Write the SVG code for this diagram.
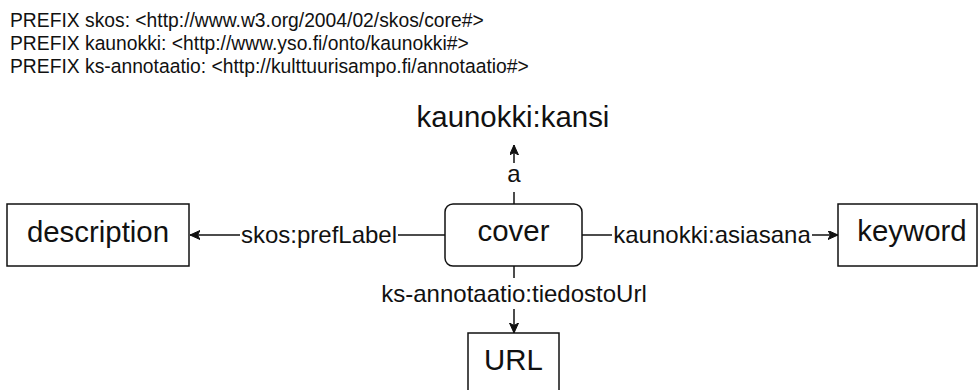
<svg xmlns="http://www.w3.org/2000/svg" width="979" height="390" viewBox="0 0 979 390">
  <style>
    .bg { fill: #ffffff; }
    .prefix { font-family: "Liberation Sans", Arial, Helvetica, sans-serif; font-size: 19.3px; fill: #111111; }
    .node rect { fill: #ffffff; stroke: #111111; stroke-width: 1.5; }
    .node text, .plain { font-family: "Liberation Sans", Arial, Helvetica, sans-serif; font-size: 29.4px; fill: #111111; text-anchor: middle; }
    .edge { fill: none; stroke: #111111; stroke-width: 1.5; }
    .arrow { marker-end: url(#head); }
    .lblbg { fill: #ffffff; stroke: none; }
    .lbl { font-family: "Liberation Sans", Arial, Helvetica, sans-serif; font-size: 24px; fill: #111111; text-anchor: middle; }
  </style>
  <defs>
    <marker id="head" markerUnits="userSpaceOnUse" markerWidth="11" markerHeight="10" refX="10" refY="4.5" orient="auto" viewBox="0 0 11 10">
      <path d="M0,0 L10,4.5 L0,9 L2.5,4.5 Z" fill="#111111" stroke="#111111" stroke-width="1" stroke-linejoin="miter"/>
    </marker>
  </defs>

  <rect class="bg" x="0" y="0" width="979" height="390"/>

  <!-- namespace prefixes -->
  <g id="prefixes">
    <text class="prefix" x="10" y="27">PREFIX skos: &lt;http://www.w3.org/2004/02/skos/core#&gt;</text>
    <text class="prefix" x="10" y="50">PREFIX kaunokki: &lt;http://www.yso.fi/onto/kaunokki#&gt;</text>
    <text class="prefix" x="10" y="73">PREFIX ks-annotaatio: &lt;http://kulttuurisampo.fi/annotaatio#&gt;</text>
  </g>

  <!-- connectors -->
  <g id="connectors">
    <path class="edge arrow" d="M514,204 L514,145"/>
    <path class="edge arrow" d="M445,235 L190,235"/>
    <path class="edge arrow" d="M582,235 L838,235"/>
    <path class="edge arrow" d="M514,266 L514,333"/>

    <rect class="lblbg" x="506" y="163" width="16" height="29"/>
    <text class="lbl" x="514" y="182">a</text>

    <rect class="lblbg" x="240" y="222" width="158" height="27"/>
    <text class="lbl" x="319" y="243">skos:prefLabel</text>

    <rect class="lblbg" x="612" y="222" width="200" height="27"/>
    <text class="lbl" x="712" y="243">kaunokki:asiasana</text>

    <rect class="lblbg" x="380" y="278" width="268" height="31"/>
    <text class="lbl" x="514" y="302">ks-annotaatio:tiedostoUrl</text>
  </g>

  <!-- nodes -->
  <g id="type-kansi">
    <text class="plain" x="513" y="127">kaunokki:kansi</text>
  </g>

  <g id="cover" class="node">
    <rect x="445" y="204" width="137" height="62" rx="8" ry="8"/>
    <text x="513.5" y="241">cover</text>
  </g>

  <g id="description" class="node">
    <rect x="7" y="204" width="182" height="62"/>
    <text x="98" y="242">description</text>
  </g>

  <g id="keyword" class="node">
    <rect x="838" y="204" width="139" height="62"/>
    <text x="912" y="241">keyword</text>
  </g>

  <g id="url" class="node">
    <rect x="468" y="333" width="91" height="62"/>
    <text x="513.5" y="370">URL</text>
  </g>
</svg>
